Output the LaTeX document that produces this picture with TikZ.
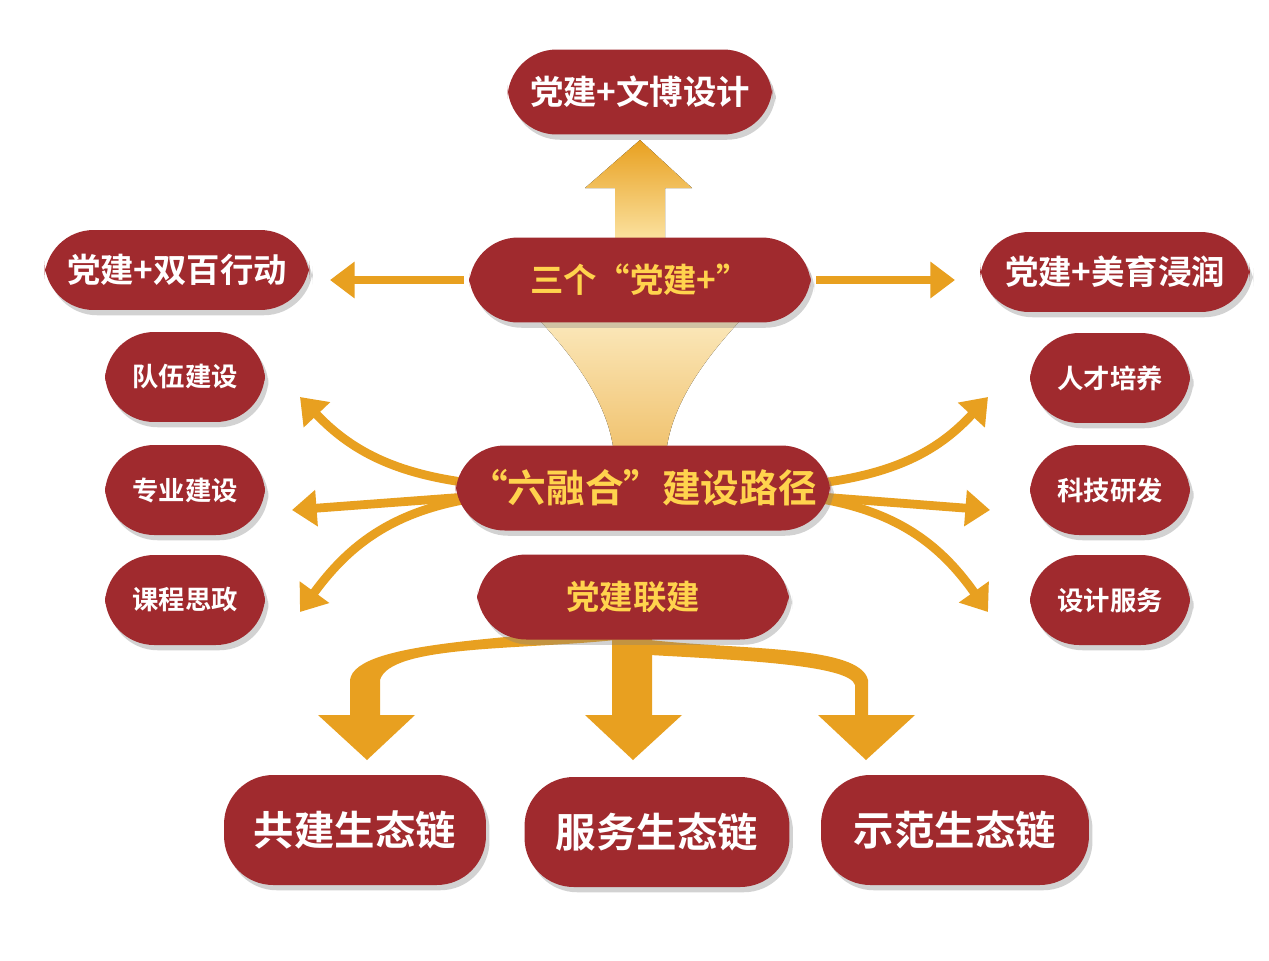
\documentclass[tikz,border=0pt]{standalone}
\usepackage{fontspec}
\newfontfamily\cjk{Noto Sans CJK SC Bold}
\usetikzlibrary{positioning,shadows,arrows.meta}
\definecolor{boxred}{HTML}{A02A2E}
\definecolor{goldtxt}{HTML}{FFD34D}
\definecolor{arrorange}{HTML}{E8A020}
\definecolor{arrlight}{HTML}{FBE2A0}
\tikzset{
  pill/.style={rounded corners=28pt, fill=boxred, text=white, font=\cjk\fontsize{19pt}{21pt}\selectfont,
    drop shadow={shadow xshift=2pt, shadow yshift=-3pt, opacity=0.35}, inner sep=0pt},
  hub/.style={pill, text=goldtxt},
  small/.style={pill, font=\cjk\fontsize{15pt}{17pt}\selectfont, minimum width=3.2cm, minimum height=1.8cm},
  big/.style={pill, font=\cjk\fontsize{23pt}{25pt}\selectfont, minimum height=2.2cm},
  thinarr/.style={draw=arrorange, line width=5pt, -{Triangle[length=14pt,width=20pt]}},
}
\begin{document}
\begin{tikzpicture}[x=0.02cm,y=-0.02cm]
\useasboundingbox (0,0) rectangle (1269,961);
\fill[white] (0,0) rectangle (1269,961);

% ------------------------------------------------
% Funnel and arrows behind boxes
\fill[top color=arrlight!60, bottom color=arrorange!70] (520,300) .. controls (590,370) and (615,420) .. (615,470)
   -- (665,470) .. controls (665,420) and (690,370) .. (760,300) -- cycle;
\fill[top color=arrorange, bottom color=arrlight] (615,240) -- (615,188) -- (585,188) -- (640,140) -- (692,188) -- (665,188) -- (665,240) -- cycle;

\coordinate (Hub) at (643,488);

% ------------------------------------------------
% Boxes
\node[pill, minimum width=5.3cm, minimum height=1.7cm] (Wenbo) at (640,92) {党建+文博设计};
\node[hub, minimum width=6.84cm, minimum height=1.7cm] (Three) at (640,280) {三个“党建+”};
\node[pill, minimum width=5.3cm, minimum height=1.6cm] (Shuangbai) at (177,270) {党建+双百行动};
\node[pill, minimum width=5.4cm, minimum height=1.6cm] (Meiyu) at (1115,272) {党建+美育浸润};

\foreach \name/\txt/\yy in {Team/队伍建设/377, Major/专业建设/490, Course/课程思政/600}
  \node[small] (\name) at (185,\yy) {\txt};
\foreach \name/\txt/\yy in {Talent/人才培养/378, Tech/科技研发/490, Service/设计服务/600}
  \node[small] (\name) at (1110,\yy) {\txt};

% Curved side arrows
\draw[thinarr] (560,488) .. controls (420,488) and (360,460) .. (300,397);
\draw[thinarr] (560,490) -- (292,510);
\draw[thinarr] (560,492) .. controls (420,492) and (360,530) .. (300,612);
\draw[thinarr] (730,488) .. controls (870,488) and (930,460) .. (988,397);
\draw[thinarr] (730,490) -- (990,510);
\draw[thinarr] (730,492) .. controls (870,492) and (930,530) .. (988,612);

\draw[thinarr] (Three.west) ++(-5,0) -- (330,280);
\draw[thinarr] (Three.east) ++(5,0) -- (955,280);

% Bottom branches
\fill[arrorange] (612,600) -- (652,600) -- (652,715) -- (682,715) -- (633,760) -- (585,715) -- (612,715) -- cycle;
\fill[arrorange] (615,640) .. controls (520,650) and (390,645) .. (380,680) -- (380,715) -- (415,715) -- (367,760) -- (318,715) -- (350,715)
   -- (350,680) .. controls (355,640) and (520,640) .. (615,625) -- cycle;
\fill[arrorange] (650,640) .. controls (740,650) and (860,645) .. (868,680) -- (868,715) -- (915,715) -- (866,760) -- (818,715) -- (855,715)
   -- (855,685) .. controls (850,665) and (740,660) .. (650,655) -- cycle;

\node[hub, font=\cjk\fontsize{22pt}{24pt}\selectfont, minimum width=7.5cm, minimum height=1.7cm] (Six) at (Hub) {“六融合”建设路径};
\node[hub, minimum width=6.24cm, minimum height=1.7cm] (Link) at (633,597) {党建联建};

\node[big, minimum width=5.24cm] (Cobuild) at (355,830) {共建生态链};
\node[big, minimum width=5.3cm] (Serve) at (657,832) {服务生态链};
\node[big, minimum width=5.36cm] (Demo) at (955,830) {示范生态链};
\end{tikzpicture}
\end{document}
